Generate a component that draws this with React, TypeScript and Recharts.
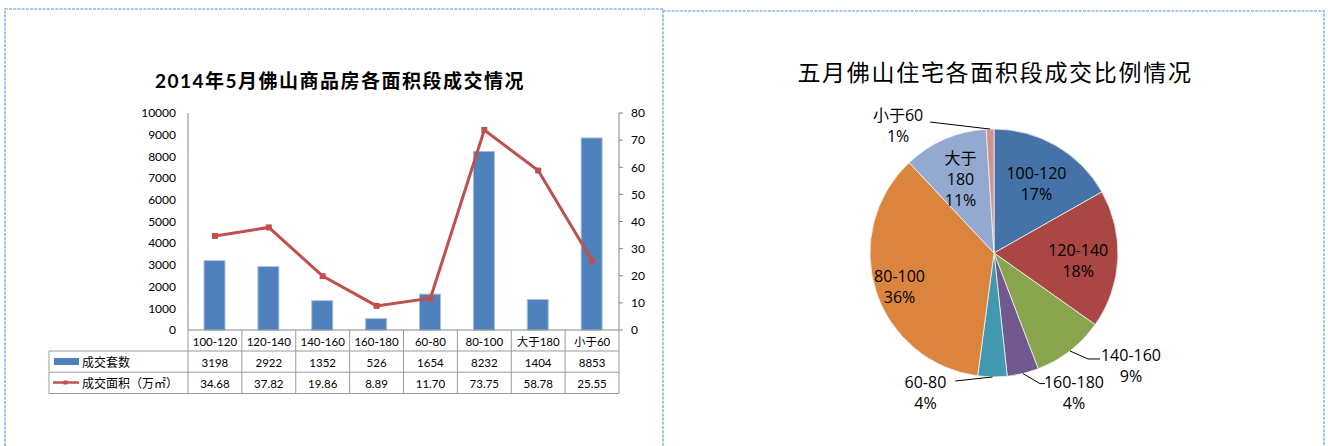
import React from "react";
import { ComposedChart, Bar, Line, XAxis, YAxis, PieChart, Pie, Cell } from "recharts";

// left chart data
const categories = ["100-120", "120-140", "140-160", "160-180", "60-80", "80-100", "大于180", "小于60"];
const dealCounts = [3198, 2922, 1352, 526, 1654, 8232, 1404, 8853];
const dealAreas = [34.68, 37.82, 19.86, 8.89, 11.7, 73.75, 58.78, 25.55];
const countTicks = [0, 1000, 2000, 3000, 4000, 5000, 6000, 7000, 8000, 9000, 10000];
const areaTicks = [0, 10, 20, 30, 40, 50, 60, 70, 80];

// right chart data (share in %)
const pieNames = ["100-120", "120-140", "140-160", "160-180", "60-80", "80-100", "大于180", "小于60"];
const pieShares = [16.8, 18.0, 9.4, 4.1, 3.8, 35.9, 11.0, 1.0];
const pieColors = ["#4572a7", "#aa4643", "#89a54e", "#71588f", "#4198af", "#db843d", "#93a9cf", "#d19392"];

const barData = categories.map((name, i) => ({ name, count: dealCounts[i], area: dealAreas[i] }));
const pieData = pieNames.map((name, i) => ({ name, value: pieShares[i] }));

const CHART_W = 663;
const CHART_H = 446;
const LEFT_AXIS_W = 188;
const RIGHT_AXIS_W = 44;
const COL_W = (CHART_W - LEFT_AXIS_W - RIGHT_AXIS_W) / categories.length;
const ROW1 = 21;
const ROW2 = 42.2;
const ROW3 = 63.5;
const LEGEND_COL_W = 139;
const GRID = "#9a9a9a";
const BAR_BLUE = "#4f81bd";
const LINE_RED = "#c0504d";

const TableTick = (props: any) => {
  const { x, y, payload } = props;
  const i = payload.index;
  const left = x - COL_W / 2;
  const right = x + COL_W / 2;
  const tableRight = left + (categories.length - i) * COL_W;
  const fs = 11.5;
  return (
    <g>
      <line x1={right} x2={right} y1={y} y2={y + ROW3} stroke={GRID} />
      <text x={x} y={y + ROW1 / 2 + 1} textAnchor="middle" dominantBaseline="central" fontSize={fs} fill="#000">
        {payload.value}
      </text>
      <text x={x} y={y + (ROW1 + ROW2) / 2 + 1} textAnchor="middle" dominantBaseline="central" fontSize={fs} fill="#000">
        {dealCounts[i]}
      </text>
      <text x={x} y={y + (ROW2 + ROW3) / 2 + 1} textAnchor="middle" dominantBaseline="central" fontSize={fs} fill="#000">
        {dealAreas[i].toFixed(2)}
      </text>
      {i === 0 && (
        <g>
          <line x1={left} x2={left} y1={y} y2={y + ROW3} stroke={GRID} />
          <line x1={left - LEGEND_COL_W} x2={left - LEGEND_COL_W} y1={y + ROW1} y2={y + ROW3} stroke={GRID} />
          {[ROW1, ROW2, ROW3].map((r) => (
            <line key={r} x1={left - LEGEND_COL_W} x2={tableRight} y1={y + r} y2={y + r} stroke={GRID} />
          ))}
          <rect x={left - 134} y={y + 28} width={25} height={7} fill={BAR_BLUE} />
          <text x={left - 106} y={y + (ROW1 + ROW2) / 2 + 1} dominantBaseline="central" fontSize={12} fill="#000">
            成交套数
          </text>
          <line x1={left - 135} x2={left - 109} y1={y + 52.5} y2={y + 52.5} stroke={LINE_RED} strokeWidth={2.5} />
          <rect x={left - 124.5} y={y + 50.5} width={4} height={4} fill={LINE_RED} />
          <text x={left - 106} y={y + (ROW2 + ROW3) / 2 + 1} dominantBaseline="central" fontSize={12} fill="#000">
            成交面积（万㎡）
          </text>
        </g>
      )}
    </g>
  );
};

const SquareDot = (props: any) => {
  const { cx, cy } = props;
  if (cx == null || cy == null) return null;
  return <rect x={cx - 3} y={cy - 3} width={6} height={6} fill={LINE_RED} />;
};

// pie label placement
const RAD = Math.PI / 180;
const LINE_H = 21;
const LABEL_FS = 16;
const nameLines: Record<string, string[]> = { "大于180": ["大于", "180"] };
const insideRadius: Record<string, number> = { "80-100": 0.8 };
const outsideLabels: Record<string, { dx: number; dy: number; h: number; tx: number; ty: number }> = {
  "140-160": { dx: 18, dy: 8, h: 12, tx: 31, ty: -4 },
  "160-180": { dx: 17, dy: 10, h: 5, tx: 29, ty: -2 },
  "60-80": { dx: -37, dy: 4, h: 0, tx: -30, ty: 1 },
  "小于60": { dx: -60, dy: -7, h: 0, tx: -32, ty: -7 },
};

const renderPieLabel = (p: any) => {
  const { cx, cy, midAngle, outerRadius, percent, name } = p;
  const cos = Math.cos(-midAngle * RAD);
  const sin = Math.sin(-midAngle * RAD);
  const lines = [...(nameLines[name] ?? [name]), `${Math.round(percent * 100)}%`];
  const out = outsideLabels[name];
  if (!out) {
    const r = outerRadius * (insideRadius[name] ?? 0.68);
    const x = cx + r * cos;
    const y = cy + r * sin + 3;
    const y0 = y - ((lines.length - 1) * LINE_H) / 2;
    return (
      <text textAnchor="middle" dominantBaseline="central" fontSize={LABEL_FS} fill="#000">
        {lines.map((l, i) => (
          <tspan key={i} x={x} y={y0 + i * LINE_H}>
            {l}
          </tspan>
        ))}
      </text>
    );
  }
  const ex = cx + outerRadius * cos;
  const ey = cy + outerRadius * sin;
  const bx = ex + out.dx;
  const by = ey + out.dy;
  const side = out.dx >= 0 ? 1 : -1;
  const hx = bx + side * out.h;
  const x = hx + out.tx;
  const y0 = by + out.ty;
  return (
    <g>
      <polyline points={`${ex},${ey} ${bx},${by} ${hx},${by}`} fill="none" stroke="#000" strokeWidth={1} />
      <text textAnchor="middle" dominantBaseline="central" fontSize={LABEL_FS} fill="#000">
        {lines.map((l, i) => (
          <tspan key={i} x={x} y={y0 + i * LINE_H}>
            {l}
          </tspan>
        ))}
      </text>
    </g>
  );
};

export default function App() {
  return (
    <div
      style={{
        position: "absolute",
        left: 0,
        top: 0,
        width: 1328,
        height: 446,
        background: "#fff",
        overflow: "hidden",
        fontFamily: "Lato, 'Noto Sans CJK SC', sans-serif",
      }}
    >
      <div style={{ position: "absolute", left: 0, top: 0, width: CHART_W, height: CHART_H }}>
        <ComposedChart
          width={CHART_W}
          height={CHART_H}
          data={barData}
          margin={{ top: 113, right: 0, bottom: 52, left: 0 }}
        >
          <XAxis
            dataKey="name"
            interval={0}
            height={64}
            tickSize={0}
            tickMargin={0}
            tickLine={false}
            axisLine={{ stroke: "#868686" }}
            tick={<TableTick />}
          />
          <YAxis
            yAxisId="left"
            width={LEFT_AXIS_W}
            domain={[0, 10000]}
            ticks={countTicks}
            interval={0}
            tickLine={false}
            tickSize={0}
            tickMargin={12}
            axisLine={{ stroke: "#868686" }}
            tick={{ fill: "#000", fontSize: 12 }}
          />
          <YAxis
            yAxisId="right"
            orientation="right"
            width={RIGHT_AXIS_W}
            domain={[0, 80]}
            ticks={areaTicks}
            interval={0}
            tickSize={4}
            tickMargin={8}
            tickLine={{ stroke: "#868686" }}
            axisLine={{ stroke: "#868686" }}
            tick={{ fill: "#000", fontSize: 12, textAnchor: "start" }}
          />
          <Bar
            yAxisId="left"
            dataKey="count"
            fill={BAR_BLUE}
            stroke="#a9c1df"
            strokeWidth={1}
            barSize={21}
            isAnimationActive={false}
          />
          <Line
            yAxisId="right"
            dataKey="area"
            stroke={LINE_RED}
            strokeWidth={3}
            dot={<SquareDot />}
            activeDot={false}
            isAnimationActive={false}
          />
        </ComposedChart>
      </div>
      <div
        style={{
          position: "absolute",
          left: 340,
          top: 68,
          transform: "translateX(-50%)",
          whiteSpace: "nowrap",
          fontSize: 19,
          lineHeight: "26px",
          fontWeight: 700,
          letterSpacing: 1.5,
          color: "#000",
        }}
      >
        2014年5月佛山商品房各面积段成交情况
      </div>

      <div style={{ position: "absolute", left: 663, top: 0, width: 661, height: CHART_H, fontFamily: "'Open Sans', 'Noto Sans CJK SC', sans-serif" }}>
        <PieChart width={661} height={CHART_H} margin={{ top: 0, right: 0, bottom: 0, left: 0 }}>
          <Pie
            data={pieData}
            dataKey="value"
            nameKey="name"
            cx={331}
            cy={253}
            outerRadius={124}
            startAngle={90}
            endAngle={-270}
            stroke="#f2f2f2"
            strokeWidth={0.8}
            label={renderPieLabel}
            labelLine={false}
            isAnimationActive={false}
          >
            {pieData.map((d, i) => (
              <Cell key={d.name} fill={pieColors[i]} />
            ))}
          </Pie>
        </PieChart>
      </div>
      <div
        style={{
          position: "absolute",
          left: 995,
          top: 56,
          transform: "translateX(-50%)",
          whiteSpace: "nowrap",
          fontSize: 23,
          lineHeight: "30px",
          letterSpacing: 1.7,
          color: "#000",
          fontFamily: "'Noto Sans CJK SC', sans-serif",
        }}
      >
        五月佛山住宅各面积段成交比例情况
      </div>

      <svg width={1328} height={446} style={{ position: "absolute", left: 0, top: 0, pointerEvents: "none" }}>
        <polyline
          points="5,446 5,9 663,9 663,446"
          fill="none"
          stroke="#8db3e2"
          strokeWidth={1.6}
          strokeDasharray="3 1.2"
        />
        <polyline points="663,11 1324,11 1324,446" fill="none" stroke="#8db3e2" strokeWidth={1.6} strokeDasharray="3 1.2" />
      </svg>
    </div>
  );
}
